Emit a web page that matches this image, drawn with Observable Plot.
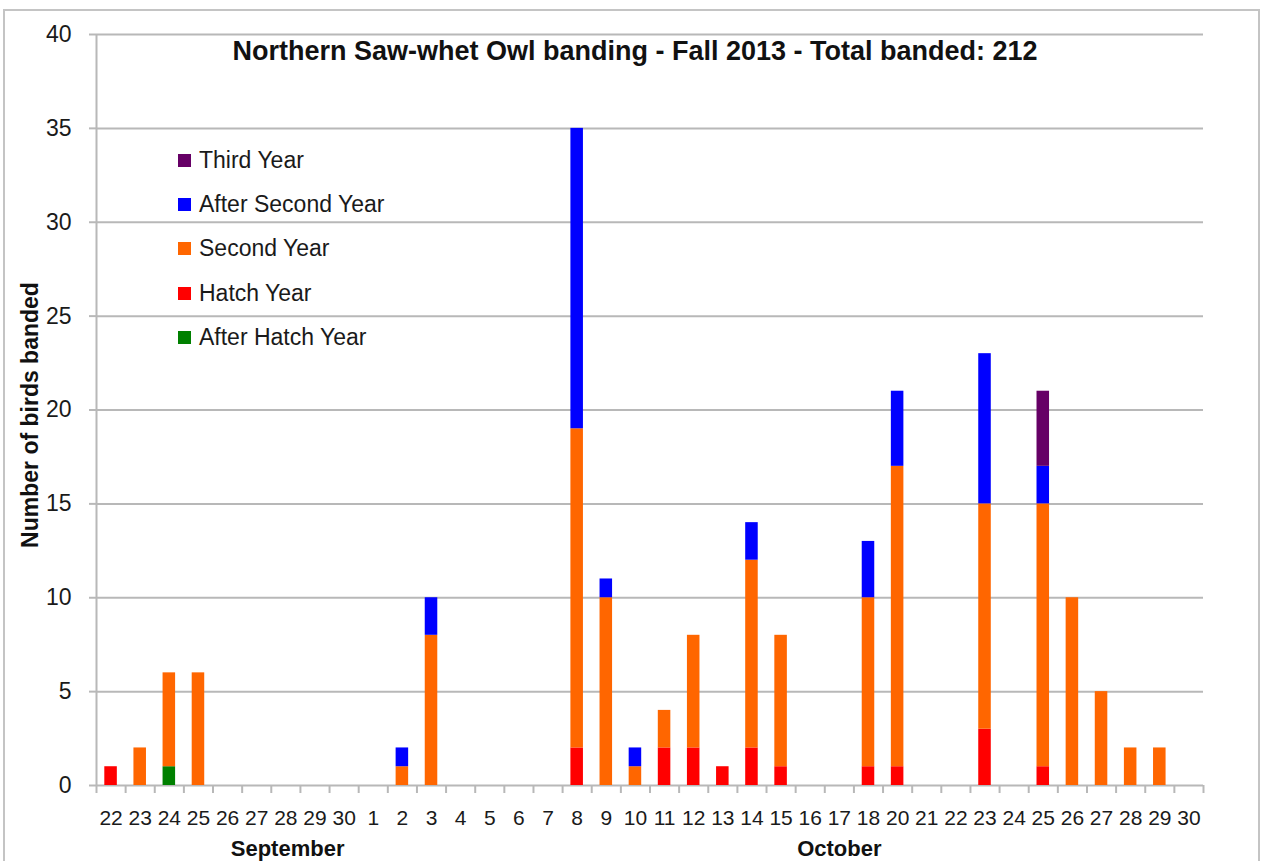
<!DOCTYPE html>
<html><head><meta charset="utf-8">
<script src="https://cdn.jsdelivr.net/npm/d3@7"></script>
<script src="https://cdn.jsdelivr.net/npm/@observablehq/plot@0.6"></script>
<style>
body{margin:0;background:#fff;}
#wrap{position:relative;width:1262px;height:861px;overflow:hidden;font-family:"Liberation Sans",Arial,sans-serif;}
#frame{position:absolute;left:3px;top:9px;width:1257px;height:870px;border:2px solid #c4c4c4;box-sizing:border-box;}
#chart{position:absolute;left:0;top:0;}
#legend{position:absolute;left:178px;top:138px;}
.item{display:flex;align-items:center;height:44.3px;font-size:23px;color:#1a1a1a;}
.sw{width:13px;height:13px;margin-right:8px;}
</style></head><body>
<div id="wrap"><div id="frame"></div><div id="chart"></div><div id="legend"></div></div>
<script>
// Categories (Sep 22 – Sep 30, Oct 1 – Oct 18, Oct 20 – Oct 30)
const dayLabels = ["22","23","24","25","26","27","28","29","30",
  "1","2","3","4","5","6","7","8","9","10","11","12","13","14","15","16","17","18",
  "20","21","22","23","24","25","26","27","28","29","30"];
const monthLabels = ["September","October"];
const monthCenters = [6.56, 25.5];

// Series values (stack order bottom → top)
const afterHatchYear = [0,0,1,0,0,0,0,0,0,
  0,0,0,0,0,0,0,0,0,0,0,0,0,0,0,0,0,0,
  0,0,0,0,0,0,0,0,0,0,0];
const hatchYear = [1,0,0,0,0,0,0,0,0,
  0,0,0,0,0,0,0,2,0,0,2,2,1,2,1,0,0,1,
  1,0,0,3,0,1,0,0,0,0,0];
const secondYear = [0,2,5,6,0,0,0,0,0,
  0,1,8,0,0,0,0,17,10,1,2,6,0,10,7,0,0,9,
  16,0,0,12,0,14,10,5,2,2,0];
const afterSecondYear = [0,0,0,0,0,0,0,0,0,
  0,1,2,0,0,0,0,16,1,1,0,0,0,2,0,0,0,3,
  4,0,0,8,0,2,0,0,0,0,0];
const thirdYear = [0,0,0,0,0,0,0,0,0,
  0,0,0,0,0,0,0,0,0,0,0,0,0,0,0,0,0,0,
  0,0,0,0,0,4,0,0,0,0,0];

const seriesNames = ["After Hatch Year","Hatch Year","Second Year","After Second Year","Third Year"];
const seriesValues = [afterHatchYear, hatchYear, secondYear, afterSecondYear, thirdYear];
const seriesColors = ["#008000","#ff0000","#ff6600","#0000ff","#660066"];
const legendOrder = ["Third Year","After Second Year","Second Year","Hatch Year","After Hatch Year"];

const title = "Northern Saw-whet Owl banding - Fall 2013 - Total banded: 212";
const yLabel = "Number of birds banded";
const yTicks = [0,5,10,15,20,25,30,35,40];

const rows = [];
seriesNames.forEach((s, k) => seriesValues[k].forEach((v, i) => { if (v > 0) rows.push({i, series: s, value: v}); }));

const xTicks = d3.range(dayLabels.length + 1);
const grid = "#b8b8b8";
const font = "Liberation Sans, Arial, sans-serif";

const chart = Plot.plot({
  width: 1262, height: 861,
  marginLeft: 96, marginRight: 59, marginTop: 34, marginBottom: 76,
  style: {fontFamily: font, background: "transparent", overflow: "visible"},
  x: {domain: [0, dayLabels.length], axis: null},
  y: {domain: [0, 40], axis: null},
  color: {domain: seriesNames, range: seriesColors},
  marks: [
    Plot.ruleY(yTicks.slice(1), {stroke: grid, strokeWidth: 2}),
    Plot.ruleY(yTicks, {x1: 0, x2: 0, insetLeft: -7, stroke: grid, strokeWidth: 2}),
    Plot.ruleX([0], {stroke: grid, strokeWidth: 2}),
    Plot.ruleX(xTicks, {y1: 0, y2: 0, insetBottom: -8, stroke: grid, strokeWidth: 2}),
    Plot.ruleY([0], {stroke: grid, strokeWidth: 2}),
    Plot.rectY(rows, Plot.stackY({x1: "i", x2: d => d.i + 1, y: "value", fill: "series", order: seriesNames, insetLeft: 8.3, insetRight: 8.3})),
    Plot.text(yTicks, {y: d => d, text: d => String(d), frameAnchor: "left", dx: -25, textAnchor: "end", fontSize: 23, fill: "#1a1a1a"}),
    Plot.text(dayLabels, {x: (d, i) => i + 0.5, text: d => d, frameAnchor: "bottom", lineAnchor: "middle", dy: 33, fontSize: 21, fill: "#1a1a1a"}),
    Plot.text(monthLabels, {x: (d, i) => monthCenters[i], text: d => d, frameAnchor: "bottom", lineAnchor: "middle", dy: 63, fontSize: 22, fontWeight: "bold", fill: "#111"}),
    Plot.text([title], {frameAnchor: "top", lineAnchor: "middle", dx: -15, dy: 17, fontSize: 27, fontWeight: "bold", fill: "#111"}),
    Plot.text([yLabel], {frameAnchor: "left", textAnchor: "middle", dx: -66, dy: 5, rotate: -90, fontSize: 23, fontWeight: "bold", fill: "#111"})
  ]
});
document.getElementById("chart").appendChild(chart);

const legend = document.getElementById("legend");
legendOrder.forEach(name => {
  const item = document.createElement("div");
  item.className = "item";
  const sw = document.createElement("span");
  sw.className = "sw";
  sw.style.background = seriesColors[seriesNames.indexOf(name)];
  const t = document.createElement("span");
  t.textContent = name;
  item.appendChild(sw); item.appendChild(t);
  legend.appendChild(item);
});
</script></body></html>
